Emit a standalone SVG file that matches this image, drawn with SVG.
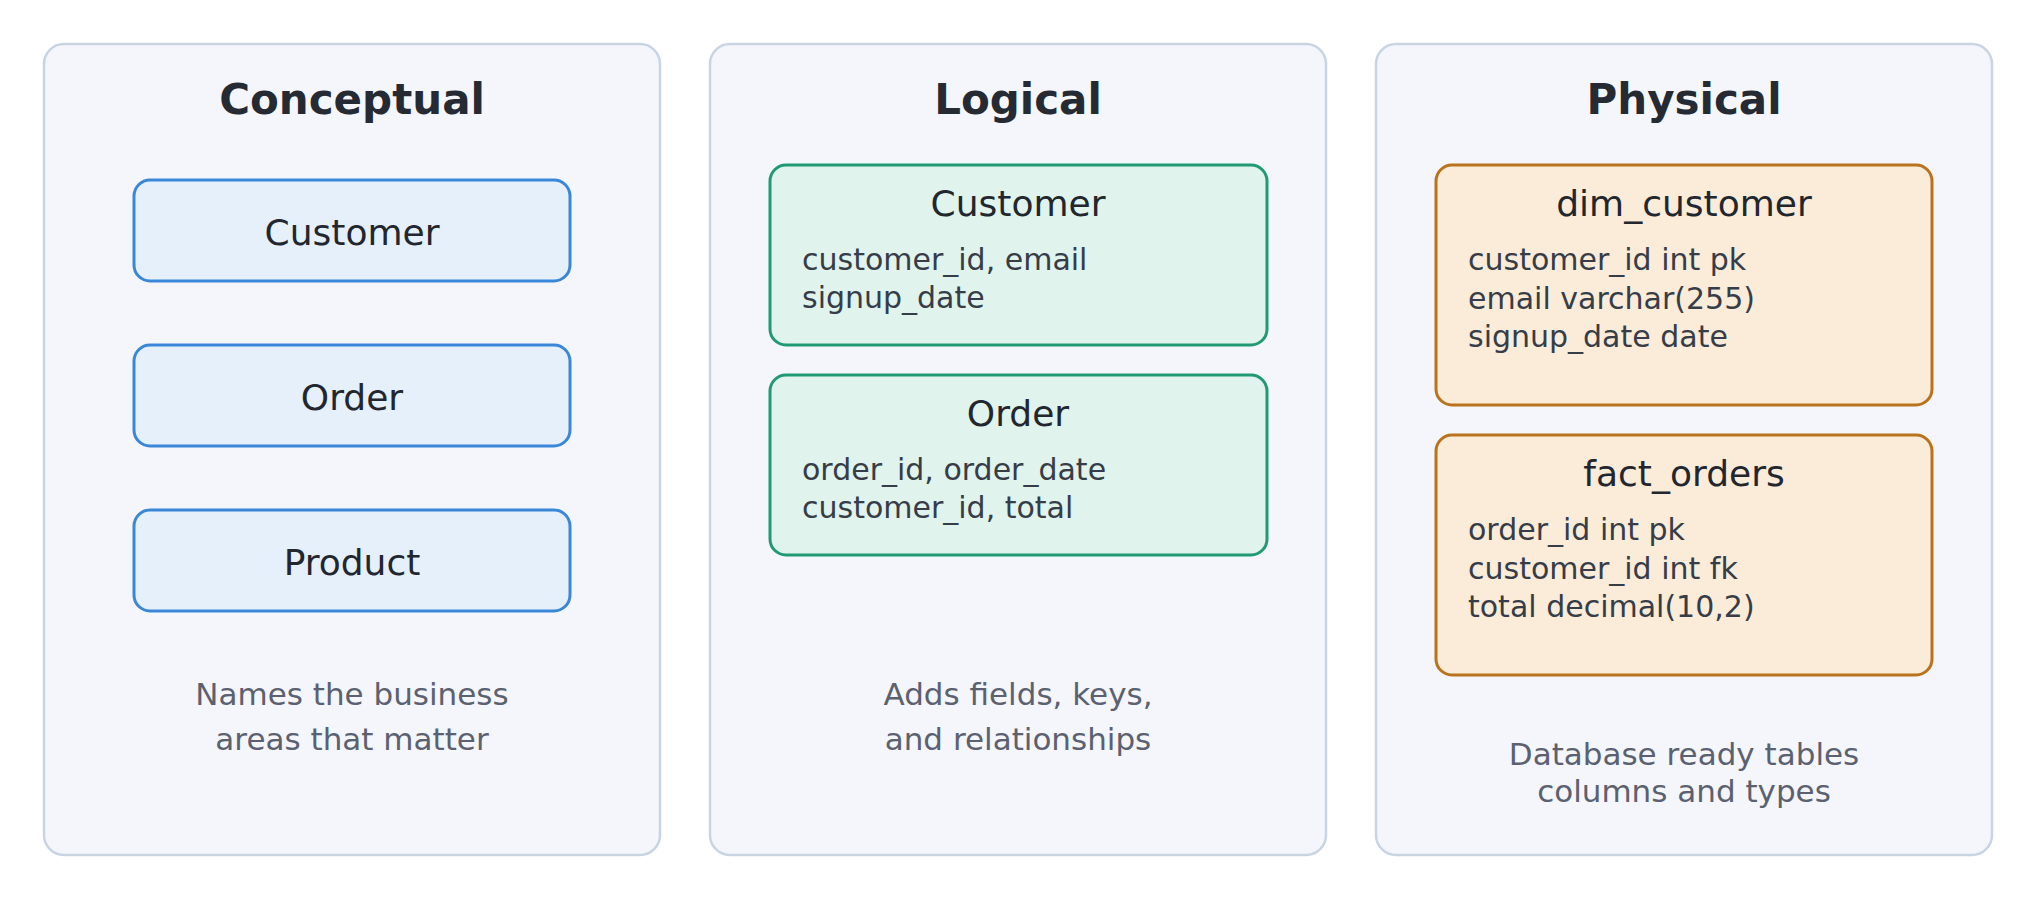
<svg xmlns="http://www.w3.org/2000/svg" width="2040" height="900" viewBox="0 0 2040 900">
<style>
.panel{fill:#f4f6fb;stroke:#c9d4e3;stroke-width:2.5}
.title{font-family:"DejaVu Sans",sans-serif;font-weight:bold;font-size:42px;fill:#262a33;text-anchor:middle}
.cbox{fill:#e6f0fb;stroke:#3a87d8;stroke-width:3}
.lbox{fill:#e0f3ec;stroke:#219a74;stroke-width:3}
.pbox{fill:#faecd9;stroke:#b9731c;stroke-width:3}
.lbl{font-family:"DejaVu Sans",sans-serif;font-size:36px;fill:#22262e;text-anchor:middle}
.fld{font-family:"DejaVu Sans",sans-serif;font-size:30px;fill:#363d48}
.cap{font-family:"DejaVu Sans",sans-serif;font-size:31px;fill:#5b6170;text-anchor:middle}
</style>
<rect width="2040" height="900" fill="#ffffff"/>
<g id="panel-conceptual">
<rect class="panel" x="44" y="44" width="616" height="811" rx="20"/>
<text class="title" x="352" y="114">Conceptual</text>
<text class="cap" x="352" y="705">Names the business</text>
<text class="cap" x="352" y="750">areas that matter</text>
</g>
<g id="panel-logical">
<rect class="panel" x="710" y="44" width="616" height="811" rx="20"/>
<text class="title" x="1018" y="114">Logical</text>
<text class="cap" x="1018" y="705">Adds fields, keys,</text>
<text class="cap" x="1018" y="750">and relationships</text>
</g>
<g id="panel-physical">
<rect class="panel" x="1376" y="44" width="616" height="811" rx="20"/>
<text class="title" x="1684" y="114">Physical</text>
<text class="cap" x="1684" y="765">Database ready tables</text>
<text class="cap" x="1684" y="802">columns and types</text>
</g>
<g id="c-customer">
<rect class="cbox" x="134" y="180" width="436" height="101" rx="16"/>
<text class="lbl" x="352" y="245">Customer</text>
</g>
<g id="c-order">
<rect class="cbox" x="134" y="345" width="436" height="101" rx="16"/>
<text class="lbl" x="352" y="410">Order</text>
</g>
<g id="c-product">
<rect class="cbox" x="134" y="510" width="436" height="101" rx="16"/>
<text class="lbl" x="352" y="575">Product</text>
</g>
<g id="l-customer">
<rect class="lbox" x="770" y="165" width="497" height="180" rx="16"/>
<text class="lbl" x="1018" y="216">Customer</text>
<text class="fld" x="802" y="270">customer_id, email</text>
<text class="fld" x="802" y="308">signup_date</text>
</g>
<g id="l-order">
<rect class="lbox" x="770" y="375" width="497" height="180" rx="16"/>
<text class="lbl" x="1018" y="426">Order</text>
<text class="fld" x="802" y="480">order_id, order_date</text>
<text class="fld" x="802" y="518">customer_id, total</text>
</g>
<g id="p-dim-customer">
<rect class="pbox" x="1436" y="165" width="496" height="240" rx="16"/>
<text class="lbl" x="1684" y="216">dim_customer</text>
<text class="fld" x="1468" y="270">customer_id int pk</text>
<text class="fld" x="1468" y="308.5">email varchar(255)</text>
<text class="fld" x="1468" y="347">signup_date date</text>
</g>
<g id="p-fact-orders">
<rect class="pbox" x="1436" y="435" width="496" height="240" rx="16"/>
<text class="lbl" x="1684" y="486">fact_orders</text>
<text class="fld" x="1468" y="540">order_id int pk</text>
<text class="fld" x="1468" y="578.5">customer_id int fk</text>
<text class="fld" x="1468" y="617">total decimal(10,2)</text>
</g>
<g id="connectors"></g>
</svg>
